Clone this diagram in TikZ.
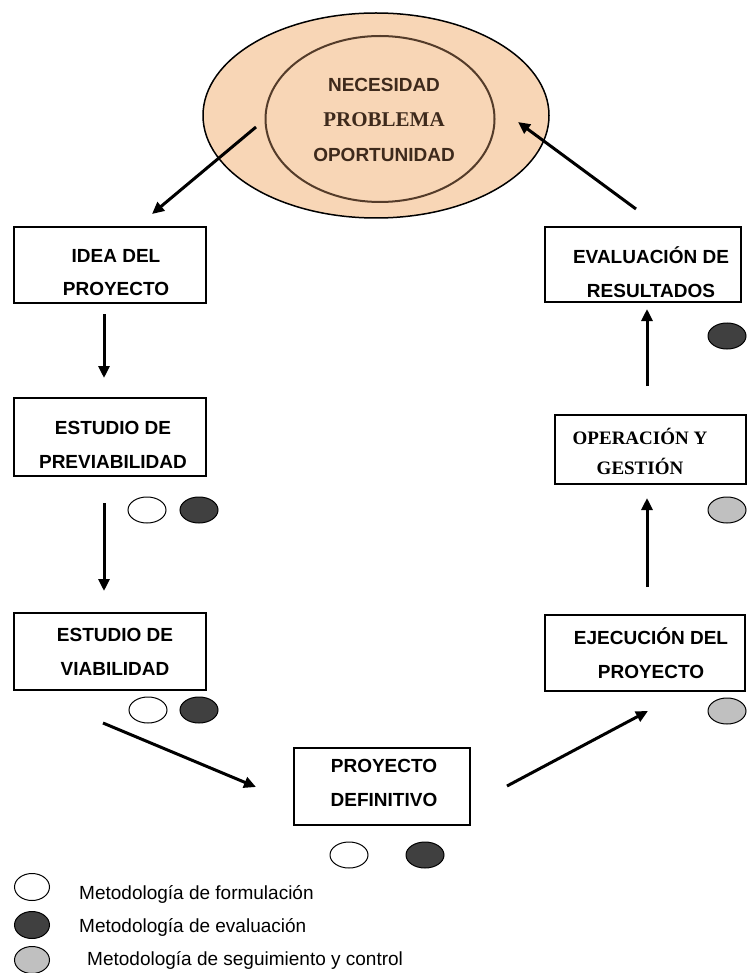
\documentclass[tikz,border=0pt]{standalone}
\usepackage{fontspec}
\setmainfont{Liberation Sans}
\newfontfamily\slabfont{Liberation Serif}
\usetikzlibrary{shapes.geometric,arrows.meta}
\definecolor{peach}{RGB}{248,214,182}
\definecolor{rim}{RGB}{84,60,42}
\definecolor{inkbrown}{RGB}{62,42,28}
\definecolor{evalfill}{RGB}{64,64,64}
\definecolor{ctrlfill}{RGB}{192,192,192}

\begin{document}
\begin{tikzpicture}[x=1pt,y=-1pt,
  stage/.style={draw,line width=2pt,rectangle,inner sep=0pt},
  stagetext/.style={inner sep=0pt,align=center,font=\bfseries\fontsize{19}{33.5}\selectfont},
  flow/.style={line width=3pt,-{Triangle[length=12pt,width=11pt]}},
  badge/.style={draw,ellipse,line width=1pt,minimum width=38pt,minimum height=26pt,inner sep=0pt},
  formul/.style={badge,fill=white},
  evalu/.style={badge,fill=evalfill},
  segui/.style={badge,fill=ctrlfill},
  legtext/.style={anchor=west,inner sep=0pt,font=\fontsize{19}{22}\selectfont}
]
\useasboundingbox (0,0) rectangle (746,973);

% origin of the cycle: need / problem / opportunity
\node[ellipse,draw,line width=1.5pt,fill=peach,minimum width=346pt,minimum height=205pt] (need) at (376,115.5) {};
\node[ellipse,draw=rim,line width=2pt,minimum width=229pt,minimum height=166pt,inner sep=0pt] (core) at (380,119) {};
\node[align=center,text=inkbrown,inner sep=0pt,font=\bfseries\fontsize{19}{35}\selectfont] (core-text) at (384,120)
  {NECESIDAD\\ {\slabfont\fontsize{21}{35}\selectfont PROBLEMA}\\ OPORTUNIDAD};

% project stages
\node[stage,minimum width=192pt,minimum height=76pt] (idea)   at (110,265)   {};
\node[stage,minimum width=192pt,minimum height=78pt] (previa) at (110,437)   {};
\node[stage,minimum width=192pt,minimum height=77pt] (viab)   at (110,651.5) {};
\node[stage,minimum width=176pt,minimum height=77pt] (defin)  at (382,786)   {};
\node[stage,minimum width=200pt,minimum height=76pt] (ejec)   at (645,653)   {};
\node[stage,minimum width=191pt,minimum height=69pt] (oper)   at (650.5,449.5) {};
\node[stage,minimum width=196pt,minimum height=75pt] (eval)   at (643,264.5) {};

\node[stagetext] (idea-text)   at (116,272.5) {IDEA DEL\\PROYECTO};
\node[stagetext] (previa-text) at (113,445)   {ESTUDIO DE\\PREVIABILIDAD};
\node[stagetext] (viab-text)   at (115,652)   {ESTUDIO DE\\VIABILIDAD};
\node[stagetext] (defin-text)  at (384,783)   {PROYECTO\\DEFINITIVO};
\node[stagetext] (ejec-text)   at (651,653)   {EJECUCIÓN DEL\\PROYECTO};
\node[stagetext,font=\slabfont\bfseries\fontsize{19}{30}\selectfont] (oper-text) at (640,451) {OPERACIÓN Y\\GESTIÓN};
\node[stagetext] (eval-text)   at (651,272)   {EVALUACIÓN DE\\RESULTADOS};

% methodology badges beside each stage
\node[formul] (previa-f) at (147,510) {};
\node[evalu]  (previa-e) at (199,510) {};
\node[formul] (viab-f)   at (148,710) {};
\node[evalu]  (viab-e)   at (199,710) {};
\node[formul] (defin-f)  at (349,855) {};
\node[evalu]  (defin-e)  at (425,855) {};
\node[segui]  (ejec-s)   at (727,711) {};
\node[segui]  (oper-s)   at (727,510) {};
\node[evalu]  (eval-e)   at (727,336) {};

% flow of the cycle
\draw[flow] ([shift={(-120,11.5)}]need.center) -- ([shift={(42,-12)}]idea.north);
\draw[flow] ([shift={(-6,10)}]idea.south)   -- ([shift={(-6,-19)}]previa.north);
\draw[flow] ([shift={(-6,26)}]previa.south) -- ([shift={(-6,-21)}]viab.north);
\draw[flow] ([shift={(-7,32)}]viab.south)   -- ([shift={(-37,1)}]defin.west);
\draw[flow] ([shift={(36,0)}]defin.east)    -- ([shift={(3,19)}]ejec.south);
\draw[flow] ([shift={(2,-27)}]ejec.north)   -- ([shift={(-3.5,13)}]oper.south);
\draw[flow] ([shift={(-3.5,-28)}]oper.north) -- ([shift={(4,6)}]eval.south);
\draw[flow] ([shift={(-7,-17)}]eval.north)  -- ([shift={(142,6.5)}]need.center);

% legend
\node[formul,minimum width=35pt,minimum height=27pt] (key-f) at (32,887) {};
\node[evalu, minimum width=35pt,minimum height=27pt] (key-e) at (32,925) {};
\node[segui, minimum width=35pt,minimum height=27pt] (key-s) at (32,960) {};
\node[legtext] (key-f-text) at (79,894) {Metodología de formulación};
\node[legtext] (key-e-text) at (79,927) {Metodología de evaluación};
\node[legtext] (key-s-text) at (87,960) {Metodología de seguimiento y control};
\end{tikzpicture}
\end{document}
